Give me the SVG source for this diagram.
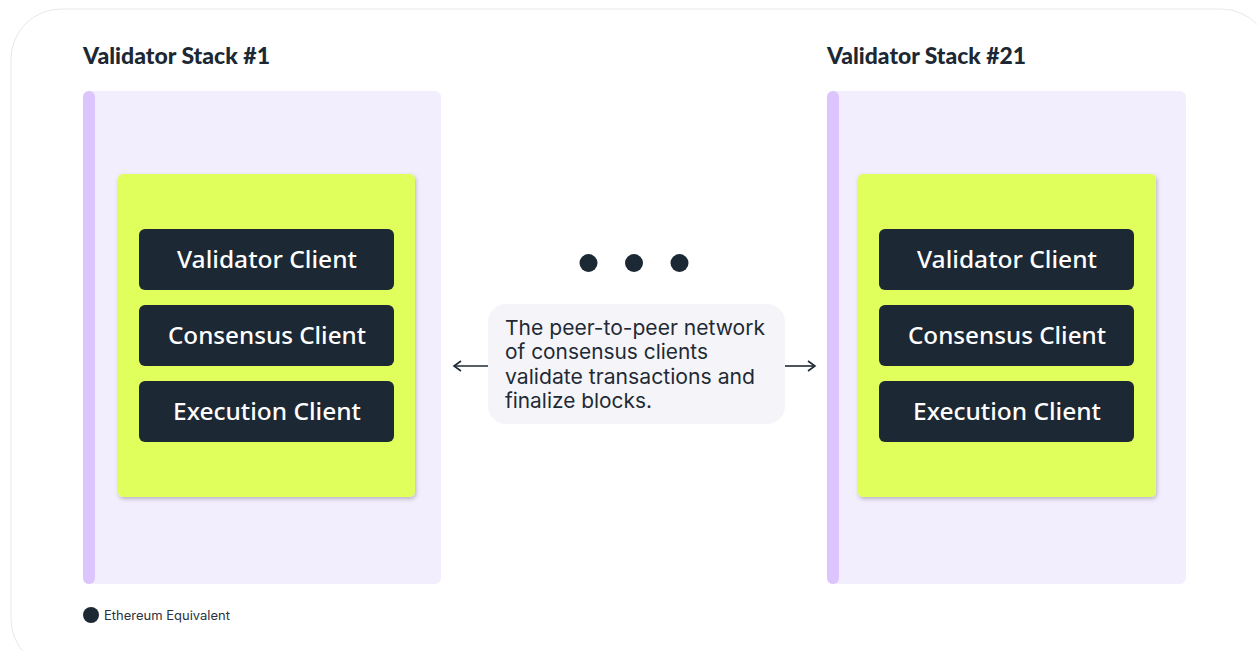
<svg xmlns="http://www.w3.org/2000/svg" width="1257" height="651" viewBox="0 0 1257 651">
<style>
.title{font-family:Lato,"Noto Sans",sans-serif;font-weight:900;font-size:22px;fill:#1c2833}
.panel{fill:#f3eefe}
.bar{fill:#dcc4fc}
.card{fill:#e0ff5c}
.client{fill:#1c2833}
.ctext{font-family:"Noto Sans",Lato,sans-serif;font-weight:500;font-size:24px;fill:#ffffff}
.note{font-family:Inter,"Noto Sans",sans-serif;font-size:20.5px;fill:#1f2a35}
.legend{font-family:Inter,"Noto Sans",sans-serif;font-size:12.5px;fill:#2a333d}
.conn{stroke:#1f2a35;stroke-width:1.6;fill:none}
</style>
<defs>
<filter id="sh" x="-10%" y="-10%" width="120%" height="120%">
<feDropShadow dx="1" dy="2" stdDeviation="2" flood-color="#000" flood-opacity="0.25"/>
</filter>
<marker id="ah" viewBox="0 0 12 12" refX="10" refY="6" markerWidth="12" markerHeight="12" markerUnits="userSpaceOnUse" orient="auto-start-reverse">
<path d="M3,1 L10,6 L3,11" fill="none" stroke="#1f2a35" stroke-width="1.6"/>
</marker>
</defs>
<rect x="11" y="9" width="1260" height="660" rx="50" fill="#ffffff" stroke="#e8e8ec" stroke-width="1"/>

<g id="stack1">
<text class="title" x="83" y="64" textLength="187" lengthAdjust="spacingAndGlyphs">Validator Stack #1</text>
<rect class="panel" x="83" y="91" width="358" height="493" rx="6"/>
<rect class="bar" x="83" y="91" width="12" height="493" rx="6"/>
<rect class="card" x="118" y="174" width="297" height="323" rx="5" filter="url(#sh)"/>
<g id="vc1"><rect class="client" x="139" y="229" width="255" height="61" rx="6"/><text class="ctext" x="177" y="268" textLength="180" lengthAdjust="spacingAndGlyphs">Validator Client</text></g>
<g id="cc1"><rect class="client" x="139" y="305" width="255" height="61" rx="6"/><text class="ctext" x="168" y="344" textLength="198" lengthAdjust="spacingAndGlyphs">Consensus Client</text></g>
<g id="ec1"><rect class="client" x="139" y="381" width="255" height="61" rx="6"/><text class="ctext" x="173" y="420" textLength="188" lengthAdjust="spacingAndGlyphs">Execution Client</text></g>
</g>

<g id="stack21">
<text class="title" x="827" y="64" textLength="199" lengthAdjust="spacingAndGlyphs">Validator Stack #21</text>
<rect class="panel" x="827" y="91" width="359" height="493" rx="6"/>
<rect class="bar" x="827" y="91" width="12" height="493" rx="6"/>
<rect class="card" x="858" y="174" width="298" height="323" rx="5" filter="url(#sh)"/>
<g id="vc21"><rect class="client" x="879" y="229" width="255" height="61" rx="6"/><text class="ctext" x="917" y="268" textLength="180" lengthAdjust="spacingAndGlyphs">Validator Client</text></g>
<g id="cc21"><rect class="client" x="879" y="305" width="255" height="61" rx="6"/><text class="ctext" x="908" y="344" textLength="198" lengthAdjust="spacingAndGlyphs">Consensus Client</text></g>
<g id="ec21"><rect class="client" x="879" y="381" width="255" height="61" rx="6"/><text class="ctext" x="913" y="420" textLength="188" lengthAdjust="spacingAndGlyphs">Execution Client</text></g>
</g>

<g id="dots">
<circle cx="588.5" cy="263" r="9" fill="#1c2833"/>
<circle cx="634" cy="263" r="9" fill="#1c2833"/>
<circle cx="679.5" cy="263" r="9" fill="#1c2833"/>
</g>

<g id="note">
<rect x="488" y="304" width="297" height="120" rx="18" fill="#f5f5f9"/>
<text class="note" x="505" y="335" textLength="260" lengthAdjust="spacingAndGlyphs">The peer-to-peer network</text>
<text class="note" x="505" y="359" textLength="203" lengthAdjust="spacingAndGlyphs">of consensus clients</text>
<text class="note" x="505" y="384" textLength="250" lengthAdjust="spacingAndGlyphs">validate transactions and</text>
<text class="note" x="505" y="408" textLength="147" lengthAdjust="spacingAndGlyphs">finalize blocks.</text>
</g>

<g id="connectors">
<line class="conn" x1="488" y1="366" x2="454" y2="366" marker-end="url(#ah)"/>
<line class="conn" x1="785" y1="366" x2="815" y2="366" marker-end="url(#ah)"/>
</g>

<g id="legend">
<circle cx="91" cy="615" r="8" fill="#1c2833"/>
<text class="legend" x="104" y="620" textLength="126" lengthAdjust="spacingAndGlyphs">Ethereum Equivalent</text>
</g>
</svg>
